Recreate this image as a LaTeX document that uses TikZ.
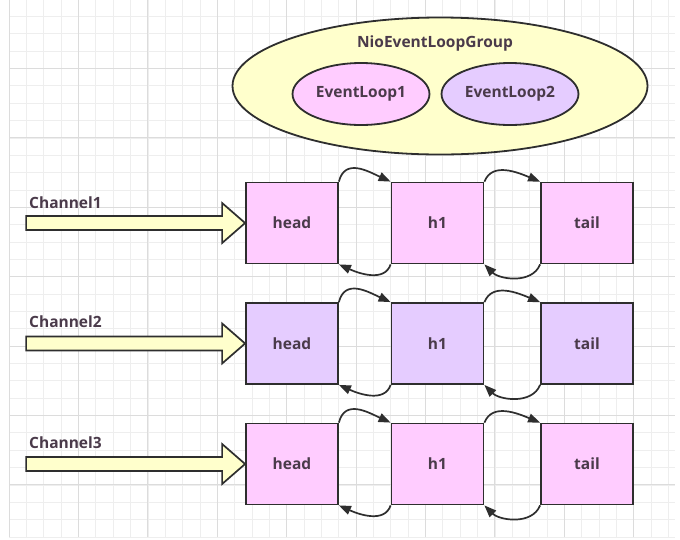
\documentclass[tikz,border=0pt]{standalone}
\usepackage{fontspec}
\setmainfont{Open Sans}
\usetikzlibrary{arrows.meta,positioning,shapes.geometric}
\definecolor{cPink}{HTML}{FFCCFF}
\definecolor{cLilac}{HTML}{E5CCFF}
\definecolor{cCream}{HTML}{FFFFCC}
\definecolor{cLine}{HTML}{2E2E2E}
\definecolor{cText}{HTML}{4A3A4A}
\definecolor{cGridA}{HTML}{EEEEEE}
\definecolor{cGridB}{HTML}{DCDCDC}

\begin{document}
\begin{tikzpicture}[
  x=1pt,y=-1pt,
  font=\fontsize{15.5}{18}\selectfont\bfseries,
  every node/.style={text=cText},
  group/.style={draw=cLine,ellipse,line width=1.8pt,fill=cCream,
                minimum width=415pt,minimum height=137pt},
  loop/.style={draw=cLine,ellipse,line width=1.8pt,
               minimum width=122pt,minimum height=62pt},
  cell/.style={draw=cLine,line width=1.8pt,minimum width=92pt,minimum height=81pt,
               inner sep=0pt},
  chan/.style={anchor=west,inner sep=0pt},
  link/.style={-{Triangle[length=12pt,width=9pt]},line width=1.7pt,cLine},
  feed/.style={draw=cLine,line width=1.7pt,fill=cCream,line join=miter}
]
\useasboundingbox (0,0) rectangle (680,539);
\fill[white] (0,0) rectangle (680,539);
% canvas grid
\draw[cGridA,line width=0.6pt,shift={(9,-1)},xstep=17.35pt,ystep=17.35pt] (0,538) grid (666,0);
\draw[cGridB,line width=0.8pt,shift={(9,-1)},xstep=69.4pt,ystep=69.4pt] (0,538) grid (666,0);

% event loop group
\node[group] (grp) at (440,86) {};
\node (grplbl) at (435,43) {NioEventLoopGroup};
\node[loop,fill=cPink] (el1) at (361,94) {EventLoop1};
\node[loop,fill=cLilac] (el2) at (510,94) {EventLoop2};

% channel 1
\node[cell,fill=cPink] (head1) at (292,223) {head};
\node[cell,fill=cPink] (mid1) at (437.5,223) {h1};
\node[cell,fill=cPink] (tail1) at (587,223) {tail};
\draw[link] (head1.north east) .. controls +(6,-24) and +(-22,-10) .. (mid1.north west);
\draw[link] (mid1.south west) .. controls +(-6,18) and +(20,9) .. (head1.south east);
\draw[link] (mid1.north east) .. controls +(8,-20) and +(-22,-9) .. (tail1.north west);
\draw[link] (tail1.south west) .. controls +(-8,20) and +(15,15) .. (mid1.south east);
\node[chan] (ch1) at (29,203) {Channel1};
\draw[feed] (head1.west) -- ++(-23,-20) -- ++(0,13) -- ++(-196,0) -- ++(0,14)
     -- ++(196,0) -- ++(0,13) -- cycle;

% channel 2
\node[cell,fill=cLilac] (head2) at (292,343.5) {head};
\node[cell,fill=cLilac] (mid2) at (437.5,343.5) {h1};
\node[cell,fill=cLilac] (tail2) at (587,343.5) {tail};
\draw[link] (head2.north east) .. controls +(6,-24) and +(-22,-10) .. (mid2.north west);
\draw[link] (mid2.south west) .. controls +(-6,18) and +(20,9) .. (head2.south east);
\draw[link] (mid2.north east) .. controls +(8,-20) and +(-22,-9) .. (tail2.north west);
\draw[link] (tail2.south west) .. controls +(-8,20) and +(15,15) .. (mid2.south east);
\node[chan] (ch2) at (29,322) {Channel2};
\draw[feed] (head2.west) -- ++(-23,-20) -- ++(0,13) -- ++(-196,0) -- ++(0,14)
     -- ++(196,0) -- ++(0,13) -- cycle;

% channel 3
\node[cell,fill=cPink] (head3) at (292,464) {head};
\node[cell,fill=cPink] (mid3) at (437.5,464) {h1};
\node[cell,fill=cPink] (tail3) at (587,464) {tail};
\draw[link] (head3.north east) .. controls +(6,-24) and +(-22,-10) .. (mid3.north west);
\draw[link] (mid3.south west) .. controls +(-6,18) and +(20,9) .. (head3.south east);
\draw[link] (mid3.north east) .. controls +(8,-20) and +(-22,-9) .. (tail3.north west);
\draw[link] (tail3.south west) .. controls +(-8,20) and +(15,15) .. (mid3.south east);
\node[chan] (ch3) at (29,443) {Channel3};
\draw[feed] (head3.west) -- ++(-23,-20) -- ++(0,13) -- ++(-196,0) -- ++(0,14)
     -- ++(196,0) -- ++(0,13) -- cycle;
\end{tikzpicture}
\end{document}
